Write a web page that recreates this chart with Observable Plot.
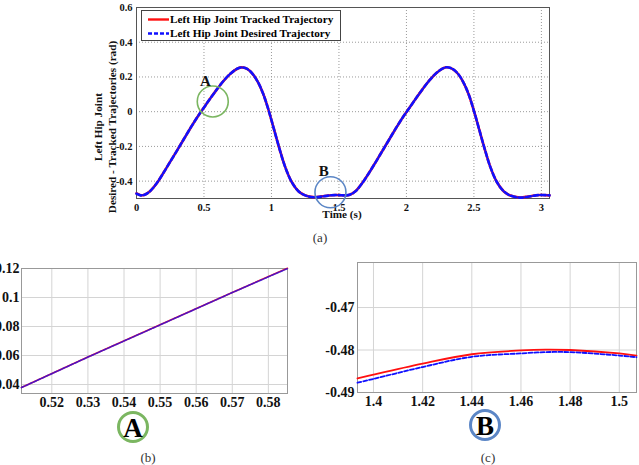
<!DOCTYPE html>
<html>
<head>
<meta charset="utf-8">
<script src="https://cdn.jsdelivr.net/npm/d3@7"></script>
<script src="https://cdn.jsdelivr.net/npm/@observablehq/plot@0.6"></script>
<style>
  html, body { margin: 0; padding: 0; background: #fff; }
  #fig { position: relative; width: 639px; height: 465px; overflow: hidden; background: #fff;
         font-family: "Liberation Serif", "DejaVu Serif", serif; }
  #fig svg, #fig svg text { font-family: "Liberation Serif", "DejaVu Serif", serif !important; font-weight: bold; }
  .panel { position: absolute; }
  .note { position: absolute; white-space: nowrap; }
</style>
</head>
<body>
<div id="fig"></div>
<script>
// Left hip joint angle over one walking sequence (rad)
const time = [0, 0.03, 0.06, 0.10, 0.15, 0.20, 0.25, 0.30, 0.35, 0.40, 0.45, 0.50, 0.55, 0.60,
  0.65, 0.70, 0.75, 0.78, 0.82, 0.86, 0.90, 0.94, 0.98, 1.02, 1.06, 1.10, 1.15, 1.20, 1.25,
  1.31, 1.37, 1.42, 1.47, 1.52, 1.55, 1.58, 1.62, 1.67, 1.72, 1.77, 1.82, 1.87, 1.92, 1.97,
  2.02, 2.07, 2.12, 2.17, 2.22, 2.27, 2.30, 2.34, 2.38, 2.42, 2.46, 2.50, 2.54, 2.58, 2.62,
  2.67, 2.72, 2.77, 2.84, 2.90, 2.96, 3.00, 3.06];
const desired = [-0.472, -0.482, -0.478, -0.458, -0.412, -0.352, -0.288, -0.224, -0.159, -0.094,
  -0.032, 0.024, 0.080, 0.133, 0.182, 0.222, 0.249, 0.255, 0.246, 0.218, 0.170, 0.100, 0.005,
  -0.105, -0.215, -0.315, -0.405, -0.458, -0.482, -0.493, -0.489, -0.4835, -0.4803, -0.4815,
  -0.482, -0.478, -0.460, -0.414, -0.356, -0.293, -0.228, -0.163, -0.098, -0.036, 0.020, 0.076,
  0.130, 0.180, 0.221, 0.249, 0.256, 0.247, 0.220, 0.172, 0.102, 0.005, -0.105, -0.215, -0.315,
  -0.405, -0.458, -0.483, -0.495, -0.490, -0.482, -0.480, -0.482];
const tracked = [-0.471, -0.481, -0.478, -0.458, -0.412, -0.352, -0.288, -0.224, -0.159, -0.094,
  -0.032, 0.024, 0.080, 0.133, 0.182, 0.222, 0.249, 0.255, 0.246, 0.218, 0.170, 0.100, 0.005,
  -0.105, -0.215, -0.315, -0.405, -0.458, -0.482, -0.492, -0.488, -0.4827, -0.4798, -0.4810,
  -0.482, -0.478, -0.460, -0.414, -0.356, -0.293, -0.228, -0.163, -0.098, -0.036, 0.020, 0.076,
  0.130, 0.180, 0.221, 0.249, 0.256, 0.247, 0.220, 0.172, 0.102, 0.005, -0.105, -0.215, -0.315,
  -0.405, -0.458, -0.483, -0.494, -0.489, -0.481, -0.480, -0.482];

// Detail A: around t = 0.55 s
const timeA = [0.5116, 0.53, 0.55, 0.57, 0.5853];
const trackedA = [0.0380, 0.0590, 0.0812, 0.1035, 0.1201];
const desiredA = [0.0379, 0.0589, 0.0811, 0.1034, 0.1200];

// Detail B: around t = 1.45 s
const timeB = [1.3935, 1.40, 1.42, 1.44, 1.46, 1.47, 1.48, 1.50, 1.507];
const trackedB = [-0.4867, -0.4858, -0.4832, -0.4810, -0.4801, -0.4799, -0.4800, -0.4808, -0.4813];
const desiredB = [-0.4877, -0.4868, -0.4840, -0.4816, -0.4808, -0.4805, -0.4805, -0.4813, -0.4817];

// Axis ticks
const ticksX = [0, 0.5, 1, 1.5, 2, 2.5, 3];
const ticksY = [-0.4, -0.2, 0, 0.2, 0.4, 0.6];
const ticksXA = [0.52, 0.53, 0.54, 0.55, 0.56, 0.57, 0.58];
const ticksYA = [0.04, 0.06, 0.08, 0.1, 0.12];
const ticksXB = [1.4, 1.42, 1.44, 1.46, 1.48, 1.5];
const ticksYB = [-0.49, -0.48, -0.47];

// Zoom markers drawn on the overview
const markers = [
  {name: "A", t: 0.565, v: 0.059, color: "#7bb661", lt: 0.511, lv: 0.178},
  {name: "B", t: 1.437, v: -0.464, color: "#5b86c6", lt: 1.387, lv: -0.343}
];

const RED = "#ff1010", BLUE = "#1010ff";
const rows = (ts, vs) => ts.map((t, i) => ({t, v: vs[i]}));
const fmt = d => String(d);

function place(node, left, top) {
  const wrap = document.createElement("div");
  wrap.className = "panel";
  wrap.style.left = left + "px";
  wrap.style.top = top + "px";
  wrap.appendChild(node);
  document.getElementById("fig").appendChild(wrap);
}
function note(text, x, y, css) {
  const d = document.createElement("div");
  d.className = "note";
  d.textContent = text;
  d.style.left = x + "px";
  d.style.top = y + "px";
  d.style.transform = "translate(-50%, -50%)";
  Object.assign(d.style, css || {});
  document.getElementById("fig").appendChild(d);
  return d;
}

const gridStyle = {stroke: "#9a9a9a", strokeOpacity: 1, strokeDasharray: "1,2"};

// (a) overview
const overview = Plot.plot({
  width: 639, height: 225,
  marginLeft: 136, marginRight: 90, marginTop: 7, marginBottom: 27,
  style: "background: transparent; overflow: visible; font-size: 10.5px; color: #111;",
  x: {domain: [0, 3.06], ticks: ticksX, tickFormat: fmt, tickSize: 0, tickPadding: 5, label: null},
  y: {domain: [-0.5, 0.6], ticks: ticksY, tickFormat: fmt, tickSize: 0, tickPadding: 4, label: null},
  marks: [
    Plot.gridX(ticksX, gridStyle),
    Plot.gridY(ticksY, gridStyle),
    Plot.frame({stroke: "#555"}),
    Plot.lineY(rows(time, tracked), {x: "t", y: "v", stroke: RED, strokeWidth: 2.6, curve: "catmull-rom"}),
    Plot.lineY(rows(time, desired), {x: "t", y: "v", stroke: BLUE, strokeWidth: 2.6, strokeDasharray: "5,2.5", curve: "catmull-rom"}),
    Plot.dot(markers, {x: "t", y: "v", r: 15.5, stroke: "color", strokeWidth: 1.6, fill: "none", clip: false}),
    Plot.text(markers, {x: "lt", y: "lv", text: "name", fontSize: 15, fontWeight: "bold", fill: "#111"})
  ]
});
place(overview, 0, 0);

// Legend
const legend = document.createElement("div");
legend.className = "note";
Object.assign(legend.style, {left: "141px", top: "10px", width: "198px", height: "29px",
  border: "1px solid #444", background: "#fff", fontWeight: "bold", fontSize: "11.2px", lineHeight: "14px"});
legend.innerHTML =
  `<svg width="198" height="29" style="position:absolute;left:0;top:0">
     <line x1="6" x2="27" y1="8.5" y2="8.5" stroke="${RED}" stroke-width="2.4"/>
     <line x1="6" x2="27" y1="22.5" y2="22.5" stroke="${BLUE}" stroke-width="2.4" stroke-dasharray="4,2"/>
   </svg>
   <div style="position:absolute;left:28px;top:1px">Left Hip Joint Tracked Trajectory</div>
   <div style="position:absolute;left:28px;top:15px">Left Hip Joint Desired Trajectory</div>`;
document.getElementById("fig").appendChild(legend);

// Axis titles of the overview
const yTitle = note("", 105, 127, {transform: "translate(-50%, -50%) rotate(-90deg)", textAlign: "center",
  fontWeight: "bold", fontSize: "11.2px", lineHeight: "14px", color: "#111"});
yTitle.innerHTML = "Left Hip Joint<br>Desired - Tracked Trajectories (rad)";
note("Time (s)", 342, 214, {fontWeight: "bold", fontSize: "11.2px", color: "#111"});
note("(a)", 320, 238, {fontSize: "13px", color: "#333"});

// (b) detail A
const detailA = Plot.plot({
  width: 300, height: 160,
  marginLeft: 21, marginRight: 13, marginTop: 10, marginBottom: 25,
  style: "background: transparent; overflow: visible; font-size: 14px; color: #111;",
  x: {domain: [0.5116, 0.5853], ticks: ticksXA, tickFormat: fmt, tickSize: 0, tickPadding: 4, label: null},
  y: {domain: [0.0338, 0.12], ticks: ticksYA, tickFormat: fmt, tickSize: 0, tickPadding: 2, label: null},
  marks: [
    Plot.gridX(ticksXA, {stroke: "#d4d4d4", strokeOpacity: 1}),
    Plot.gridY(ticksYA, {stroke: "#d4d4d4", strokeOpacity: 1}),
    Plot.frame({stroke: "#999"}),
    Plot.lineY(rows(timeA, trackedA), {x: "t", y: "v", stroke: RED, strokeWidth: 1.6}),
    Plot.lineY(rows(timeA, desiredA), {x: "t", y: "v", stroke: BLUE, strokeWidth: 1.6, strokeDasharray: "3,1.5", strokeOpacity: 0.75})
  ]
});
place(detailA, 0, 258);

// (c) detail B
const detailB = Plot.plot({
  width: 329, height: 165,
  marginLeft: 47, marginRight: 3, marginTop: 12, marginBottom: 23,
  style: "background: transparent; overflow: visible; font-size: 14px; color: #111;",
  x: {domain: [1.3935, 1.507], ticks: ticksXB, tickFormat: fmt, tickSize: 0, tickPadding: 4, label: null},
  y: {domain: [-0.49, -0.4594], ticks: ticksYB, tickFormat: fmt, tickSize: 0, tickPadding: 3, label: null},
  marks: [
    Plot.gridX(ticksXB, {stroke: "#d4d4d4", strokeOpacity: 1}),
    Plot.gridY(ticksYB, {stroke: "#d4d4d4", strokeOpacity: 1}),
    Plot.frame({stroke: "#999"}),
    Plot.lineY(rows(timeB, trackedB), {x: "t", y: "v", stroke: RED, strokeWidth: 1.8, curve: "catmull-rom"}),
    Plot.lineY(rows(timeB, desiredB), {x: "t", y: "v", stroke: BLUE, strokeWidth: 1.8, strokeDasharray: "4,2", curve: "catmull-rom"})
  ]
});
place(detailB, 310, 250);

// Circled markers under the details
for (const [m, x, y] of [[markers[0], 133, 427], [markers[1], 485, 425]]) {
  note(m.name, x, y, {width: "26px", height: "26px", border: `3px solid ${m.color}`, borderRadius: "50%",
    textAlign: "center", lineHeight: "28px", fontWeight: "bold", fontSize: "27px", color: "#000"});
}
note("(b)", 148, 458, {fontSize: "13px", color: "#333", fontWeight: "normal"});
note("(c)", 488, 458, {fontSize: "13px", color: "#333", fontWeight: "normal"});
</script>
</body>
</html>
